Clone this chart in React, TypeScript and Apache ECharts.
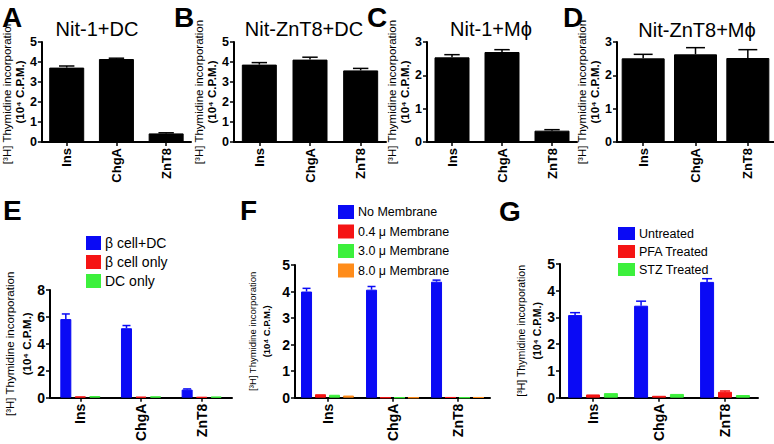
import React, { useEffect, useRef } from "react";
import * as echarts from "echarts";

const categories = ["Ins", "ChgA", "ZnT8"];

// Panel A-D (top row)
const nit1DC = [3.72, 4.15, 0.43];
const nit1DCErr = [0.08, 0.04, 0.03];
const nitZnT8DC = [3.87, 4.12, 3.58];
const nitZnT8DCErr = [0.1, 0.12, 0.1];
const nit1Mphi = [2.54, 2.7, 0.34];
const nit1MphiErr = [0.08, 0.07, 0.03];
const nitZnT8Mphi = [2.51, 2.63, 2.52];
const nitZnT8MphiErr = [0.12, 0.2, 0.25];

// Panel E
const betaCellDC = [5.84, 5.16, 0.6];
const betaCellDCErr = [0.38, 0.2, 0.05];
const betaCellOnly = [0.1, 0.07, 0.05];
const dcOnly = [0.12, 0.1, 0.08];

// Panel F
const noMembrane = [4.0, 4.07, 4.37];
const noMembraneErr = [0.12, 0.12, 0.06];
const mem04 = [0.13, 0, 0.015];
const mem30 = [0.11, 0, 0];
const mem80 = [0.08, 0, 0.015];

// Panel G
const untreated = [3.09, 3.44, 4.33];
const untreatedErr = [0.09, 0.17, 0.12];
const pfaTreated = [0.12, 0.07, 0.22];
const pfaTreatedErr = [0, 0, 0.03];
const stzTreated = [0.17, 0.14, 0.1];

const FONT = "Arial, 'Liberation Sans', Helvetica, sans-serif";
const BLUE = "#0a0af5";
const RED = "#f51414";
const GREEN = "#3cf03c";
const ORANGE = "#ff8c1a";

const yName = "{a|[³H] Thymidine incorporation}\n{b|(10⁴ C.P.M.)}";

type PanelCfg = {
  left: number;
  top: number;
  width: number;
  height: number;
  max: number;
  interval: number;
  tickFont: number;
  xFont: number;
  nameFont: number;
  nameLH: number;
  nameGap: number;
};

const panels: PanelCfg[] = [
  { left: 39, top: 42, width: 152, height: 100, max: 5, interval: 1, tickFont: 12.5, xFont: 13, nameFont: 11.5, nameLH: 13, nameGap: 9 },
  { left: 234, top: 42, width: 152, height: 100, max: 5, interval: 1, tickFont: 12.5, xFont: 13, nameFont: 11.5, nameLH: 13, nameGap: 9 },
  { left: 427, top: 42, width: 150, height: 100, max: 3, interval: 1, tickFont: 12.5, xFont: 13, nameFont: 11.5, nameLH: 13, nameGap: 9 },
  { left: 617, top: 42, width: 157, height: 100, max: 3, interval: 1, tickFont: 12.5, xFont: 13, nameFont: 11.5, nameLH: 13, nameGap: 9 },
  { left: 50, top: 290, width: 182, height: 109, max: 8, interval: 2, tickFont: 14, xFont: 14, nameFont: 11.5, nameLH: 17, nameGap: 12 },
  { left: 295, top: 265, width: 195, height: 135, max: 5, interval: 1, tickFont: 14, xFont: 14, nameFont: 9.5, nameLH: 14, nameGap: 22 },
  { left: 560, top: 264, width: 198, height: 135, max: 5, interval: 1, tickFont: 14, xFont: 14, nameFont: 10.5, nameLH: 16, nameGap: 15 },
];

function barSeries(name: string, idx: number, data: number[], color: string, barWidth: number, barGap: string) {
  return {
    type: "bar",
    name,
    xAxisIndex: idx,
    yAxisIndex: idx,
    data,
    barWidth,
    barGap,
    itemStyle: { color, borderColor: color, borderWidth: 1 },
    z: 2,
  };
}

function errSeries(
  idx: number,
  values: number[],
  errs: number[],
  color: string,
  offset: number,
  capHalf: number,
  lineWidth: number
) {
  return {
    type: "custom",
    xAxisIndex: idx,
    yAxisIndex: idx,
    silent: true,
    z: 3,
    data: values.map((v, i) => [i, v, v + errs[i], errs[i]]),
    encode: { x: 0, y: [1, 2] },
    renderItem: (_params: any, api: any) => {
      if (api.value(3) <= 0) return { type: "group", children: [] };
      const base = api.coord([api.value(0), api.value(1)]);
      const top = api.coord([api.value(0), api.value(2)]);
      const x = base[0] + offset;
      const style = { stroke: color, lineWidth };
      return {
        type: "group",
        children: [
          { type: "line", shape: { x1: x, y1: base[1], x2: x, y2: top[1] }, style },
          { type: "line", shape: { x1: x - capHalf, y1: top[1], x2: x + capHalf, y2: top[1] }, style },
        ],
      };
    },
  };
}

function groupOffset(i: number, n: number, w: number, gap: number) {
  const step = w * (1 + gap);
  return (i - (n - 1) / 2) * step;
}

function letter(text: string, x: number, y: number) {
  return {
    type: "text",
    x,
    y,
    style: {
      text,
      fill: "#000",
      fontSize: 28,
      fontWeight: "bold",
      fontFamily: FONT,
      textVerticalAlign: "middle",
      verticalAlign: "middle",
    },
  };
}

function panelTitle(text: string, x: number, y: number) {
  return {
    type: "text",
    x,
    y,
    style: {
      text,
      fill: "#000",
      fontSize: 20,
      fontFamily: FONT,
      textAlign: "center",
      align: "center",
      textVerticalAlign: "middle",
      verticalAlign: "middle",
    },
  };
}

export default function App() {
  const ref = useRef<HTMLDivElement>(null);

  useEffect(() => {
    if (!ref.current) return;
    const chart = echarts.init(ref.current, undefined, { renderer: "svg" });

    const grid = panels.map((p) => ({ left: p.left, top: p.top, width: p.width, height: p.height, containLabel: false }));

    const xAxis = panels.map((p, i) => ({
      type: "category",
      gridIndex: i,
      data: categories,
      axisLine: { show: true, lineStyle: { color: "#000", width: 2 } },
      axisTick: { show: true, alignWithLabel: true, length: 4, lineStyle: { color: "#000", width: 1.5 } },
      axisLabel: { rotate: 90, fontSize: p.xFont, fontWeight: "bold", color: "#000", fontFamily: FONT, margin: 6 },
      splitLine: { show: false },
    }));

    const yAxis = panels.map((p, i) => ({
      type: "value",
      gridIndex: i,
      min: 0,
      max: p.max,
      interval: p.interval,
      axisLine: { show: true, lineStyle: { color: "#000", width: 2 } },
      axisTick: { show: true, length: 4, lineStyle: { color: "#000", width: 1.5 } },
      axisLabel: { fontSize: p.tickFont, fontWeight: "bold", color: "#000", fontFamily: FONT, margin: 5 },
      splitLine: { show: false },
      name: yName,
      nameLocation: "middle",
      nameRotate: 90,
      nameGap: p.nameGap,
      nameTextStyle: {
        color: "#000",
        fontFamily: FONT,
        rich: {
          a: { fontSize: p.nameFont, lineHeight: p.nameLH, color: "#000", fontFamily: FONT },
          b: { fontSize: p.nameFont, lineHeight: p.nameLH, fontWeight: "bold", color: "#000", fontFamily: FONT },
        },
      },
    }));

    const series: any[] = [];
    const tops: [number[], number[], number][] = [
      [nit1DC, nit1DCErr, 35],
      [nitZnT8DC, nitZnT8DCErr, 35],
      [nit1Mphi, nit1MphiErr, 35],
      [nitZnT8Mphi, nitZnT8MphiErr, 43],
    ];
    const topNames = ["Nit-1+DC", "Nit-ZnT8+DC", "Nit-1+Mϕ", "Nit-ZnT8+Mϕ"];
    tops.forEach(([vals, errs, w], i) => {
      series.push(barSeries(topNames[i], i, vals, "#000", w, "30%"));
      series.push(errSeries(i, vals, errs, "#000", 0, w * 0.22, 1.5));
    });

    // E
    const eW = 11, eG = 0.32;
    const eSeries: [string, number[], string][] = [
      ["β cell+DC", betaCellDC, BLUE],
      ["β cell only", betaCellOnly, RED],
      ["DC only", dcOnly, GREEN],
    ];
    eSeries.forEach(([n, d, c]) => series.push(barSeries(n, 4, d, c, eW, "32%")));
    series.push(errSeries(4, betaCellDC, betaCellDCErr, BLUE, groupOffset(0, 3, eW, eG), 4, 1.5));

    // F
    const fW = 11, fG = 0.27;
    const fSeries: [string, number[], string][] = [
      ["No Membrane", noMembrane, BLUE],
      ["0.4 μ Membrane", mem04, RED],
      ["3.0 μ Membrane", mem30, GREEN],
      ["8.0 μ Membrane", mem80, ORANGE],
    ];
    fSeries.forEach(([n, d, c]) => series.push(barSeries(n, 5, d, c, fW, "27%")));
    series.push(errSeries(5, noMembrane, noMembraneErr, BLUE, groupOffset(0, 4, fW, fG), 4, 1.5));

    // G
    const gW = 14, gG = 0.28;
    const gSeries: [string, number[], string][] = [
      ["Untreated", untreated, BLUE],
      ["PFA Treated", pfaTreated, RED],
      ["STZ Treated", stzTreated, GREEN],
    ];
    gSeries.forEach(([n, d, c]) => series.push(barSeries(n, 6, d, c, gW, "28%")));
    series.push(errSeries(6, untreated, untreatedErr, BLUE, groupOffset(0, 3, gW, gG), 5, 1.5));
    series.push(errSeries(6, pfaTreated, pfaTreatedErr, RED, groupOffset(1, 3, gW, gG), 5, 1.5));

    const legendBase = {
      orient: "vertical",
      icon: "rect",
      selectedMode: false,
      padding: 0,
      itemGap: 5,
      itemWidth: 13,
      itemHeight: 12,
    };

    const legend = [
      {
        ...legendBase,
        left: 86,
        top: 236,
        data: eSeries.map((s) => s[0]),
        textStyle: { fontSize: 14, lineHeight: 12, color: "#000", fontFamily: FONT },
      },
      {
        ...legendBase,
        left: 338,
        top: 205,
        itemWidth: 14,
        itemGap: 5.5,
        data: fSeries.map((s) => s[0]),
        textStyle: { fontSize: 12.5, lineHeight: 12, color: "#000", fontFamily: FONT },
      },
      {
        ...legendBase,
        left: 618,
        top: 227,
        itemWidth: 15,
        itemHeight: 11,
        itemGap: 5,
        data: gSeries.map((s) => s[0]),
        textStyle: { fontSize: 12.5, lineHeight: 11, color: "#000", fontFamily: FONT },
      },
    ];

    const graphic = [
      letter("A", 2, 17),
      letter("B", 174, 17),
      letter("C", 367, 17),
      letter("D", 563, 17),
      letter("E", 3, 210),
      letter("F", 240, 210),
      letter("G", 499, 211),
      panelTitle("Nit-1+DC", 97, 29),
      panelTitle("Nit-ZnT8+DC", 304, 29),
      panelTitle("Nit-1+Mϕ", 491, 29),
      panelTitle("Nit-ZnT8+Mϕ", 697, 30),
    ];

    chart.setOption({
      animation: false,
      backgroundColor: "#fff",
      textStyle: { fontFamily: FONT },
      grid,
      xAxis,
      yAxis,
      legend,
      graphic,
      series,
    });

    return () => chart.dispose();
  }, []);

  return (
    <div
      ref={ref}
      style={{ position: "fixed", left: 0, top: 0, width: 774, height: 444, background: "#fff" }}
    />
  );
}
